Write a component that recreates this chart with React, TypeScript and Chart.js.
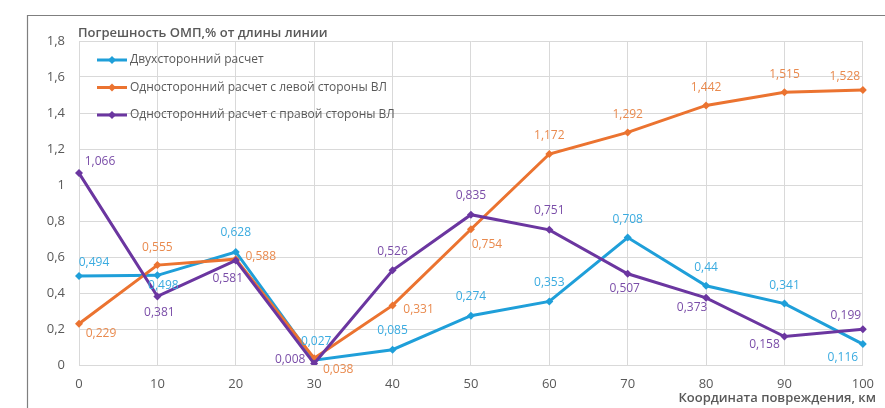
import { useEffect, useRef } from 'react';
import { Chart, registerables } from 'chart.js';

Chart.register(...registerables);

const categories = ['0', '10', '20', '30', '40', '50', '60', '70', '80', '90', '100'];
const twoSided = [0.494, 0.498, 0.628, 0.027, 0.085, 0.274, 0.353, 0.708, 0.44, 0.341, 0.116];
const leftSide = [0.229, 0.555, 0.588, 0.038, 0.331, 0.754, 1.172, 1.292, 1.442, 1.515, 1.528];
const rightSide = [1.066, 0.381, 0.581, 0.008, 0.526, 0.835, 0.751, 0.507, 0.373, 0.158, 0.199];
const seriesNames = [
  'Двухсторонний расчет',
  'Односторонний расчет с левой стороны ВЛ',
  'Односторонний расчет с правой стороны ВЛ',
];
const chartTitle = 'Погрешность ОМП,% от длины линии';
const xTitle = 'Координата повреждения, км';

// label placement (pixel offsets from the point), kept apart from the data
const twoSidedLabelOffsets = [[15, -14], [6, 10], [0, -19], [2, -19], [0, -19], [0, -19], [0, -19], [0, -18], [0, -18], [0, -18], [-20, 13]];
const leftLabelOffsets = [[22, 10], [0, -18], [25, -3], [24, 11], [26, 4], [16, 15], [0, -18], [0, -18], [0, -18], [0, -18], [-18, -13]];
const rightLabelOffsets = [[21, -12], [2, 16], [-8, 18], [-24, -4], [0, -19], [0, -19], [0, -19], [-3, 15], [-14, 10], [-20, 8], [-17, -14]];

const COLORS = ['#1F9FD9', '#EB7330', '#6B36A0'];
const LABEL_COLORS = ['#3AABE0', '#E98A4E', '#7A4DA8'];
const TEXT = '#595959';
const FONT = '"Open Sans", "Liberation Sans", sans-serif';

const fmt = (v: number) => v.toString().replace('.', ',');

export default function App() {
  const ref = useRef<HTMLCanvasElement | null>(null);

  useEffect(() => {
    document.body.style.margin = '0';
    const canvas = ref.current;
    if (!canvas) return;
    const offsets = [twoSidedLabelOffsets, leftLabelOffsets, rightLabelOffsets];

    const decor = {
      id: 'decor',
      beforeDraw(chart: any) {
        const ctx = chart.ctx;
        ctx.save();
        ctx.fillStyle = '#ffffff';
        ctx.fillRect(0, 0, chart.width, chart.height);
        ctx.strokeStyle = '#7f7f7f';
        ctx.lineWidth = 1.2;
        ctx.beginPath();
        ctx.moveTo(27.5, chart.height + 5);
        ctx.lineTo(27.5, 15.5);
        ctx.lineTo(chart.width + 5, 15.5);
        ctx.stroke();
        ctx.restore();
      },
      afterDatasetsDraw(chart: any) {
        const ctx = chart.ctx;
        ctx.save();
        ctx.textAlign = 'center';
        ctx.textBaseline = 'middle';
        ctx.font = `12px ${FONT}`;
        chart.data.datasets.forEach((ds: any, di: number) => {
          const meta = chart.getDatasetMeta(di);
          ctx.fillStyle = LABEL_COLORS[di];
          meta.data.forEach((pt: any, i: number) => {
            const [dx, dy] = offsets[di][i];
            ctx.fillText(fmt(ds.data[i]), pt.x + dx, pt.y + dy);
          });
        });
        // legend
        seriesNames.forEach((name, i) => {
          const y = 60 + i * 27.5;
          ctx.strokeStyle = COLORS[i];
          ctx.lineWidth = 3;
          ctx.beginPath();
          ctx.moveTo(97, y);
          ctx.lineTo(127, y);
          ctx.stroke();
          ctx.fillStyle = COLORS[i];
          ctx.beginPath();
          ctx.moveTo(112, y - 4);
          ctx.lineTo(116, y);
          ctx.lineTo(112, y + 4);
          ctx.lineTo(108, y);
          ctx.closePath();
          ctx.fill();
          ctx.fillStyle = TEXT;
          ctx.textAlign = 'left';
          ctx.font = `12px ${FONT}`;
          ctx.fillText(name, 130, y);
        });
        // titles
        ctx.fillStyle = TEXT;
        ctx.font = `600 13px ${FONT}`;
        ctx.textAlign = 'left';
        ctx.fillText(chartTitle, 78, 33);
        ctx.textAlign = 'right';
        ctx.fillText(xTitle, 876, 398);
        ctx.restore();
      },
    };

    const mk = (label: string, data: number[], i: number, order: number) => ({
      label,
      data,
      borderColor: COLORS[i],
      backgroundColor: COLORS[i],
      borderWidth: 3,
      pointStyle: 'rectRot',
      pointRadius: 4,
      pointBorderWidth: 0,
      tension: 0,
      order,
    });

    const chart = new Chart(canvas, {
      type: 'line',
      data: {
        labels: categories,
        datasets: [
          mk(seriesNames[0], twoSided, 0, 2),
          mk(seriesNames[1], leftSide, 1, 1),
          mk(seriesNames[2], rightSide, 2, 0),
        ],
      },
      options: {
        responsive: false,
        animation: false,
        layout: { padding: { left: 0, right: 19, top: 41, bottom: 0 } },
        plugins: { legend: { display: false }, title: { display: false }, tooltip: { enabled: false } },
        scales: {
          x: {
            offset: false,
            grid: { color: '#d9d9d9', drawTicks: false },
            border: { color: '#d9d9d9' },
            ticks: { color: TEXT, font: { family: FONT, size: 13 }, padding: 11, maxRotation: 0 },
            afterFit: (s: any) => { s.height = 43; },
          },
          y: {
            min: 0,
            max: 1.8,
            grid: { color: '#d9d9d9', drawTicks: false },
            border: { color: '#d9d9d9' },
            ticks: {
              stepSize: 0.2,
              color: TEXT,
              padding: 14,
              font: { family: FONT, size: 13 },
              callback: (v: any) => fmt(Number(Number(v).toFixed(1))),
            },
            afterFit: (s: any) => { s.width = 79; },
          },
        },
      },
      plugins: [decor],
    } as any);
    return () => chart.destroy();
  }, []);

  return (
    <div style={{ position: 'fixed', left: 0, top: 0, width: 885, height: 408, overflow: 'hidden', background: '#fff' }}>
      <canvas ref={ref} width={885} height={408} style={{ display: 'block', width: 885, height: 408 }} />
    </div>
  );
}
